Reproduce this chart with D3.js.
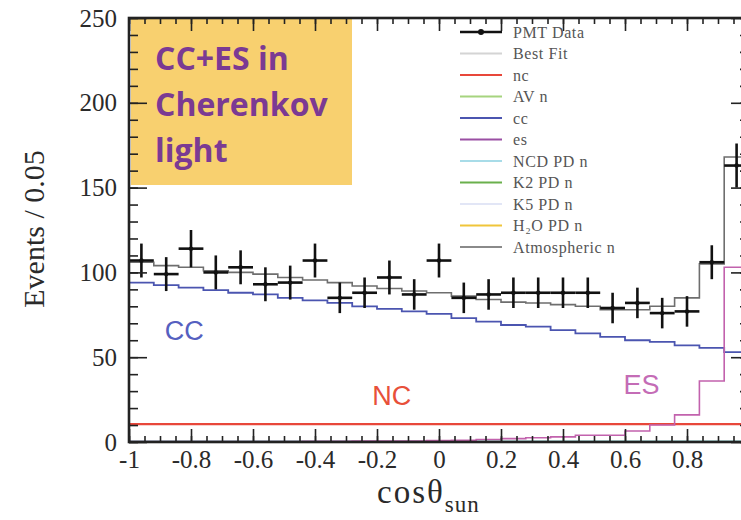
<!DOCTYPE html>
<html>
<head>
<meta charset="utf-8">
<script src="https://cdn.jsdelivr.net/npm/d3@7"></script>
<style>
  html, body { margin: 0; padding: 0; background: #fff; }
  svg { display: block; }
</style>
</head>
<body>
<svg id="chart" width="741" height="520"></svg>
<script>
// ---------------- data ----------------
const binEdgesStart = -1;           // first bin edge (cosθ_sun)
const binWidth = 0.08;              // 25 bins from -1 to 1
const dataCounts = [107, 99, 114, 100, 103, 93, 94, 107, 85, 88, 97, 87, 107,
                    85, 87, 88, 88, 88, 88, 79, 82, 76, 77, 106, 163];
const dataErrors = [10, 10, 11, 10, 10, 10, 10, 10, 9, 9, 10, 9, 10,
                    9, 9, 9, 9, 9, 9, 9, 9, 9, 9, 10, 13];
const bestFit   = [106, 104, 103, 101, 100, 99, 97, 95.5, 94, 92, 90.5, 89, 88,
                   86, 84, 82.5, 82, 81, 80, 78, 78, 80, 85, 105, 168];
const ccValues  = [94, 92.5, 91, 89.5, 88, 87, 85, 83.5, 82, 80, 78.5, 77, 75.5,
                   73, 71, 69, 68, 66, 64, 62, 60, 59, 57, 55.5, 53];
const ncValues  = [10.5, 10.5, 10.5, 10.5, 10.5, 10.5, 10.5, 10.5, 10.5, 10.5, 10.5, 10.5, 10.5,
                   10.5, 10.5, 10.5, 10.5, 10.5, 10.5, 10.5, 10.5, 10.5, 10.5, 10.5, 10.5];
const esValues  = [0.3, 0.3, 0.3, 0.3, 0.3, 0.3, 0.3, 0.4, 0.4, 0.5, 0.5, 0.6, 0.8,
                   1, 1.5, 2, 2.5, 3, 4, 4, 6.5, 10, 16, 36, 103];
const bkgValues = [0.4, 0.4, 0.4, 0.4, 0.4, 0.4, 0.4, 0.4, 0.4, 0.4, 0.4, 0.4, 0.4,
                   0.4, 0.4, 0.4, 0.4, 0.4, 0.4, 0.4, 0.4, 0.4, 0.4, 0.4, 0.4];

const xTickValues = [-1, -0.8, -0.6, -0.4, -0.2, 0, 0.2, 0.4, 0.6, 0.8];
const xTickLabels = ["-1", "-0.8", "-0.6", "-0.4", "-0.2", "0", "0.2", "0.4", "0.6", "0.8"];
const yTickValues = [0, 50, 100, 150, 200, 250];
const yTickLabels = ["0", "50", "100", "150", "200", "250"];

const legendLabels = ["PMT Data", "Best Fit", "nc", "AV n", "cc", "es",
                      "NCD PD n", "K2 PD n", "K5 PD n", "H\u2082O PD n", "Atmospheric n"];
const legendColors = ["#111", "#d4d4d4", "#e8473a", "#a6d47e", "#4b55b0", "#9a4fa3",
                      "#a8dce8", "#6ab04c", "#e2e6f6", "#f0c53a", "#8a8a8a"];

const boxLines = ["CC+ES in", "Cherenkov", "light"];

// ---------------- setup ----------------
const svg = d3.select("#chart");
const x = d3.scaleLinear().domain([-1, 1]).range([129, 749]);
const y = d3.scaleLinear().domain([0, 250]).range([442, 18]);

const edges = d3.range(dataCounts.length + 1).map(i => binEdgesStart + i * binWidth);
const centers = dataCounts.map((d, i) => binEdgesStart + (i + 0.5) * binWidth);

// annotation box
svg.append("rect")
  .attr("x", x(-1) + 2).attr("y", y(250))
  .attr("width", 221).attr("height", 167)
  .attr("fill", "#F8D06F");
svg.append("g").selectAll("text").data(boxLines).join("text")
  .attr("x", 155)
  .attr("y", (d, i) => 70 + i * 46)
  .attr("font-family", "'Open Sans', sans-serif")
  .attr("font-weight", 700)
  .attr("font-size", 32)
  .attr("fill", "#7B3A93")
  .text(d => d);

// step histograms
function stepPath(values) {
  const pts = values.map((v, i) => [edges[i], v]);
  pts.push([edges[values.length], values[values.length - 1]]);
  return d3.line().x(d => x(d[0])).y(d => y(d[1])).curve(d3.curveStepAfter)(pts);
}
const plot = svg.append("g");
plot.append("path").attr("d", stepPath(bkgValues)).attr("fill", "none")
  .attr("stroke", "#7cc8c8").attr("stroke-width", 1.5);
plot.append("path").attr("d", stepPath(ncValues)).attr("fill", "none")
  .attr("stroke", "#e8473a").attr("stroke-width", 2.2);
plot.append("path").attr("d", stepPath(ccValues)).attr("fill", "none")
  .attr("stroke", "#4b55b0").attr("stroke-width", 1.8);
plot.append("path").attr("d", stepPath(esValues)).attr("fill", "none")
  .attr("stroke", "#c262ad").attr("stroke-width", 1.6);
plot.append("path").attr("d", stepPath(bestFit)).attr("fill", "none")
  .attr("stroke", "#6e6e6e").attr("stroke-width", 1.6);

// data points with error bars
const pts = plot.append("g").selectAll("g").data(dataCounts).join("g");
pts.append("line")
  .attr("x1", (d, i) => x(edges[i])).attr("x2", (d, i) => x(edges[i + 1]))
  .attr("y1", d => y(d)).attr("y2", d => y(d))
  .attr("stroke", "#111").attr("stroke-width", 2.6);
pts.append("line")
  .attr("x1", (d, i) => x(centers[i])).attr("x2", (d, i) => x(centers[i]))
  .attr("y1", (d, i) => y(d - dataErrors[i])).attr("y2", (d, i) => y(d + dataErrors[i]))
  .attr("stroke", "#111").attr("stroke-width", 2.6);
pts.append("circle")
  .attr("cx", (d, i) => x(centers[i])).attr("cy", d => y(d)).attr("r", 2.2)
  .attr("fill", "#111");

// annotations
const ann = [
  {t: "CC", xv: -0.885, yv: 60, c: "#5560c0"},
  {t: "NC", xv: -0.215, yv: 22, c: "#e8503a"},
  {t: "ES", xv: 0.595, yv: 28.5, c: "#c46cb6"}
];
svg.append("g").selectAll("text").data(ann).join("text")
  .attr("x", d => x(d.xv)).attr("y", d => y(d.yv))
  .attr("font-family", "'Liberation Sans', Arial, sans-serif")
  .attr("font-size", 27)
  .attr("fill", d => d.c)
  .text(d => d.t);

// ---------------- axes ----------------
const tickFont = "'Liberation Serif', 'Times New Roman', serif";
const xMinor = d3.range(-1, 1.0001, 0.05).map(v => +v.toFixed(2));
const yMinor = d3.range(0, 251, 10);

function styleAxis(g) {
  g.select(".domain").remove();
  g.selectAll(".tick line").attr("stroke", "#222").attr("stroke-width", 1.6);
  g.selectAll("text").attr("font-family", tickFont).attr("font-size", 25).attr("fill", "#2a2a2a");
}

// bottom
svg.append("g").attr("transform", `translate(0,${y(0)})`)
  .call(d3.axisBottom(x).tickValues(xMinor).tickSizeInner(-6).tickSizeOuter(0).tickFormat(""))
  .call(styleAxis);
svg.append("g").attr("transform", `translate(0,${y(0)})`)
  .call(d3.axisBottom(x).tickValues(xTickValues).tickSizeInner(-13).tickSizeOuter(0)
        .tickPadding(8).tickFormat((d, i) => xTickLabels[i]))
  .call(styleAxis);
// top
svg.append("g").attr("transform", `translate(0,${y(250)})`)
  .call(d3.axisTop(x).tickValues(xMinor).tickSizeInner(-6).tickSizeOuter(0).tickFormat(""))
  .call(styleAxis);
svg.append("g").attr("transform", `translate(0,${y(250)})`)
  .call(d3.axisTop(x).tickValues(xTickValues).tickSizeInner(-13).tickSizeOuter(0).tickFormat(""))
  .call(styleAxis);
// left
svg.append("g").attr("transform", `translate(${x(-1)},0)`)
  .call(d3.axisLeft(y).tickValues(yMinor).tickSizeInner(-9).tickSizeOuter(0).tickFormat(""))
  .call(styleAxis);
svg.append("g").attr("transform", `translate(${x(-1)},0)`)
  .call(d3.axisLeft(y).tickValues(yTickValues).tickSizeInner(-18).tickSizeOuter(0)
        .tickPadding(12).tickFormat((d, i) => yTickLabels[i]))
  .call(styleAxis);
// right
svg.append("g").attr("transform", `translate(${x(1)},0)`)
  .call(d3.axisRight(y).tickValues(yMinor).tickSizeInner(-9).tickSizeOuter(0).tickFormat(""))
  .call(styleAxis);
svg.append("g").attr("transform", `translate(${x(1)},0)`)
  .call(d3.axisRight(y).tickValues(yTickValues).tickSizeInner(-18).tickSizeOuter(0).tickFormat(""))
  .call(styleAxis);

// frame
svg.append("rect")
  .attr("x", x(-1)).attr("y", y(250))
  .attr("width", x(1) - x(-1)).attr("height", y(0) - y(250))
  .attr("fill", "none").attr("stroke", "#222").attr("stroke-width", 2.6);

// axis titles
svg.append("text")
  .attr("transform", `translate(44,229) rotate(-90)`)
  .attr("text-anchor", "middle")
  .attr("font-family", tickFont).attr("font-size", 30).attr("fill", "#2a2a2a")
  .text("Events / 0.05");
const xt = svg.append("text")
  .attr("x", 377).attr("y", 503)
  .attr("font-family", tickFont).attr("font-size", 33).attr("letter-spacing", 2)
  .attr("fill", "#2a2a2a");
xt.append("tspan").text("cos\u03B8");
xt.append("tspan").attr("dy", 9).attr("font-size", 23).attr("letter-spacing", 1).text("sun");

// ---------------- legend ----------------
const leg = svg.append("g").selectAll("g").data(legendLabels).join("g")
  .attr("transform", (d, i) => `translate(0,${32 + i * 21.5})`);
leg.append("line").attr("x1", 460).attr("x2", 502).attr("y1", 0).attr("y2", 0)
  .attr("stroke", (d, i) => legendColors[i]).attr("stroke-width", (d, i) => i === 0 ? 2.4 : 2);
leg.filter((d, i) => i === 0).append("circle").attr("cx", 481).attr("cy", 0).attr("r", 3)
  .attr("fill", "#111");
leg.append("text").attr("x", 513).attr("y", 0).attr("dy", "0.35em")
  .attr("font-family", tickFont).attr("font-size", 16).attr("letter-spacing", 0.6)
  .attr("fill", "#555")
  .text(d => d);
</script>
</body>
</html>
